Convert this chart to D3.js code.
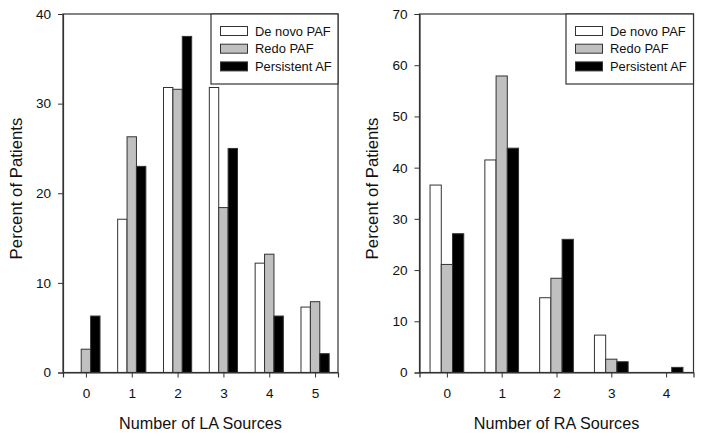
<!DOCTYPE html>
<html><head><meta charset="utf-8">
<script src="https://cdn.jsdelivr.net/npm/d3@7"></script>
<style>body{margin:0;background:#fff}svg{display:block}text{font-family:Arial,"Liberation Sans",sans-serif;fill:#111}</style>
</head><body>
<svg id="c" width="704" height="438"></svg>
<script>
const seriesNames = ["De novo PAF", "Redo PAF", "Persistent AF"];
const seriesFills = ["#ffffff", "#c0c0c0", "#000000"];
const laCategories = [0, 1, 2, 3, 4, 5];
const laDeNovo = [0, 17.1, 31.8, 31.8, 12.2, 7.3];
const laRedo = [2.6, 26.3, 31.6, 18.4, 13.2, 7.9];
const laPersistent = [6.3, 23.0, 37.5, 25.0, 6.3, 2.1];
const laTicks = [0, 10, 20, 30, 40];
const raCategories = [0, 1, 2, 3, 4];
const raDeNovo = [36.6, 41.5, 14.6, 7.3, 0];
const raRedo = [21.1, 57.9, 18.4, 2.6, 0];
const raPersistent = [27.1, 43.8, 26.0, 2.1, 1.0];
const raTicks = [0, 10, 20, 30, 40, 50, 60, 70];

const svg = d3.select("#c");
const stroke = "#333";

function panel(opt) {
  const {left, right, top, bottom, cats, series, ymax, ticks, xTitle, yTitleX, legendLeft} = opt;
  const x = d3.scaleLinear().domain([cats[0] - 0.5, cats[cats.length - 1] + 0.5]).range([left, right]);
  const y = d3.scaleLinear().domain([0, ymax]).range([bottom, top]);
  const g = svg.append("g");
  const step = x(1) - x(0);
  const bw = step * 0.205;
  series.forEach((vals, si) => {
    g.selectAll(null).data(cats).enter().append("rect")
      .filter((d, i) => vals[i] > 0)
      .attr("x", d => x(d) + (si - 1.5) * bw)
      .attr("width", bw)
      .attr("y", (d) => y(vals[cats.indexOf(d)]))
      .attr("height", (d) => y(0) - y(vals[cats.indexOf(d)]))
      .attr("fill", seriesFills[si]).attr("stroke", stroke).attr("stroke-width", 1);
  });
  g.append("rect").attr("x", left).attr("y", top).attr("width", right - left).attr("height", bottom - top)
    .attr("fill", "none").attr("stroke", stroke).attr("stroke-width", 1.2);
  const ya = g.append("g").attr("transform", `translate(${left},0)`)
    .call(d3.axisLeft(y).tickValues(ticks).tickSize(5).tickPadding(7).tickFormat(d3.format("d")));
  const xa = g.append("g").attr("transform", `translate(0,${bottom})`)
    .call(d3.axisBottom(x).tickValues(cats).tickSize(5).tickPadding(10.5).tickFormat(d3.format("d")));
  [ya, xa].forEach(a => {
    a.select(".domain").attr("stroke", stroke).attr("stroke-width", 1.2);
    a.selectAll(".tick line").attr("stroke", stroke);
    a.selectAll("text").style("font-size", "13.6px").style("font-family", "Arial, 'Liberation Sans', sans-serif").attr("fill", "#111");
  });
  g.append("text").attr("x", (left + right) / 2).attr("y", 428.5).attr("text-anchor", "middle")
    .style("font-size", "16.2px").text(xTitle);
  g.append("text").attr("transform", `translate(${yTitleX},188.5) rotate(-90)`)
    .attr("text-anchor", "middle").attr("dy", "0.35em").style("font-size", "16.8px").text("Percent of Patients");
  const lg = g.append("g");
  lg.append("rect").attr("x", legendLeft).attr("y", top).attr("width", right - legendLeft).attr("height", 70)
    .attr("fill", "#fff").attr("stroke", stroke).attr("stroke-width", 1.2);
  seriesNames.forEach((name, i) => {
    const cy = top + 17 + i * 17.7;
    lg.append("rect").attr("x", legendLeft + 9.5).attr("y", cy - 4.5).attr("width", 27).attr("height", 9)
      .attr("fill", seriesFills[i]).attr("stroke", stroke);
    lg.append("text").attr("x", legendLeft + 44).attr("y", cy + 4.5).style("font-size", "12.9px").text(name);
  });
}

panel({left: 63, right: 338, top: 14, bottom: 372.5, cats: laCategories,
  series: [laDeNovo, laRedo, laPersistent], ymax: 40, ticks: laTicks,
  xTitle: "Number of LA Sources", yTitleX: 16, legendLeft: 211});
panel({left: 419.5, right: 693.5, top: 14, bottom: 372.5, cats: raCategories,
  series: [raDeNovo, raRedo, raPersistent], ymax: 70, ticks: raTicks,
  xTitle: "Number of RA Sources", yTitleX: 372, legendLeft: 566});
</script>
</body></html>
